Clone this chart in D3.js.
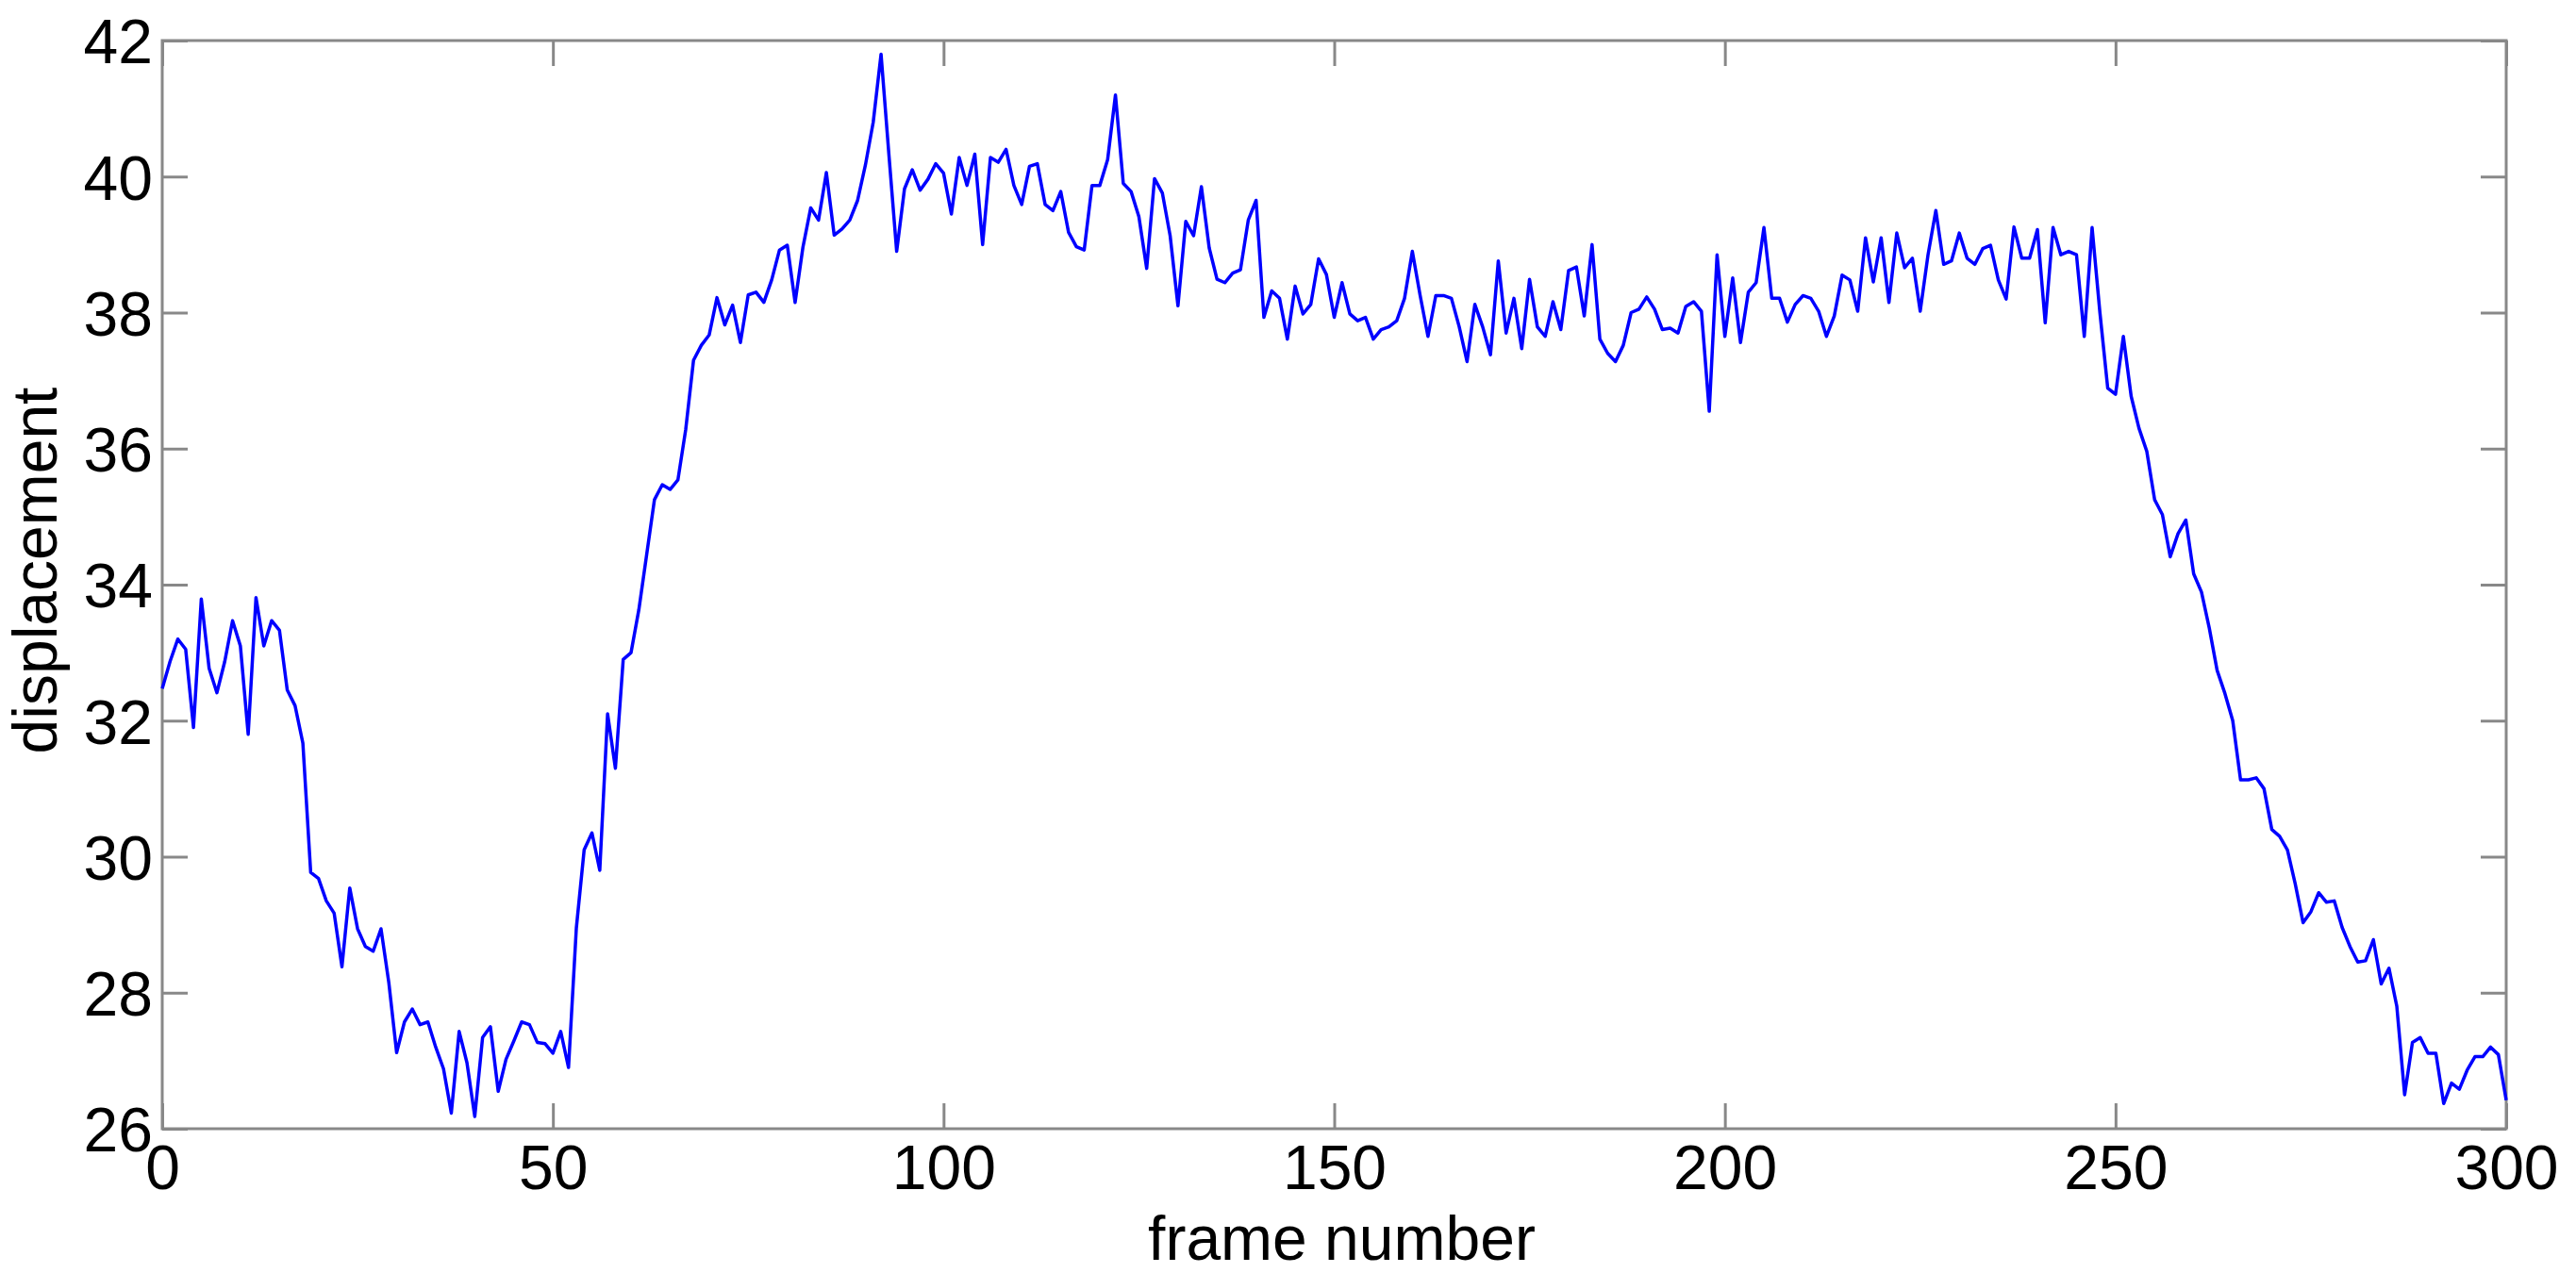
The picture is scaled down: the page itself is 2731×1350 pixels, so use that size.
<!DOCTYPE html>
<html>
<head>
<meta charset="utf-8">
<script src="https://cdn.jsdelivr.net/npm/d3@7"></script>
<style>
  html, body { margin: 0; padding: 0; background: #ffffff; }
  svg { display: block; }
  text { font-family: "Liberation Sans", Arial, Helvetica, sans-serif; fill: #000; }
</style>
</head>
<body>
<svg id="chart" width="2731" height="1350"></svg>
<script>
// ---- data ----
const xTicks = [0, 50, 100, 150, 200, 250, 300];
const yTicks = [26, 28, 30, 32, 34, 36, 38, 40, 42];
const xLabel = "frame number";
const yLabel = "displacement";

// displacement for frame 0 .. 300
const displacement = [
  32.47, 32.87, 33.20, 33.05, 31.90, 33.79, 32.77, 32.41, 32.87, 33.47,
  33.10, 31.80, 33.81, 33.10, 33.47, 33.33, 32.45, 32.22, 31.67, 29.77,
  29.68, 29.35, 29.17, 28.38, 29.54, 28.94, 28.68, 28.61, 28.94, 28.15,
  27.12, 27.57, 27.76, 27.53, 27.57, 27.20, 26.88, 26.23, 27.43, 26.97,
  26.18, 27.34, 27.50, 26.55, 27.02, 27.29, 27.57, 27.53, 27.27, 27.25,
  27.11, 27.43, 26.90, 28.95, 30.10, 30.35, 29.80, 32.10, 31.30, 32.90,
  33.00, 33.63, 34.44, 35.25, 35.47, 35.40, 35.54, 36.28, 37.30, 37.52,
  37.67, 38.22, 37.82, 38.11, 37.56, 38.26, 38.30, 38.15, 38.48, 38.92,
  38.99, 38.15, 38.96, 39.54, 39.36, 40.06, 39.14, 39.23, 39.36, 39.65,
  40.17, 40.80, 41.80, 40.33, 38.90, 39.82, 40.10, 39.80, 39.96, 40.19,
  40.05, 39.45, 40.28, 39.87, 40.33, 39.00, 40.28, 40.21, 40.40, 39.87,
  39.59, 40.15, 40.19, 39.59, 39.50, 39.78, 39.18, 38.97, 38.92, 39.87,
  39.87, 40.25, 41.20, 39.90, 39.78, 39.41, 38.65, 39.97, 39.76, 39.13,
  38.10, 39.34, 39.13, 39.85, 38.95, 38.49, 38.44, 38.58, 38.63, 39.36,
  39.65, 37.93, 38.32, 38.21, 37.61, 38.39, 37.98, 38.12, 38.79, 38.56,
  37.93, 38.44, 37.98, 37.88, 37.93, 37.61, 37.75, 37.79, 37.88, 38.21,
  38.90, 38.25, 37.65, 38.25, 38.25, 38.21, 37.79, 37.28, 38.12, 37.79,
  37.38, 38.76, 37.70, 38.21, 37.47, 38.49, 37.79, 37.65, 38.16, 37.75,
  38.62, 38.67, 37.95, 39.00, 37.61, 37.40, 37.28, 37.52, 38.00, 38.05,
  38.23, 38.05, 37.75, 37.77, 37.70, 38.09, 38.16, 38.02, 36.55, 38.85,
  37.65, 38.51, 37.56, 38.30, 38.44, 39.25, 38.21, 38.21, 37.86, 38.12,
  38.25, 38.21, 38.02, 37.65, 37.95, 38.55, 38.48, 38.02, 39.10, 38.45,
  39.10, 38.15, 39.17, 38.66, 38.80, 38.02, 38.85, 39.50, 38.71, 38.76,
  39.17, 38.80, 38.71, 38.94, 38.99, 38.48, 38.20, 39.26, 38.80, 38.80,
  39.22, 37.85, 39.25, 38.85, 38.90, 38.85, 37.65, 39.25, 38.00, 36.89,
  36.80, 37.65, 36.77, 36.30, 35.96, 35.25, 35.03, 34.41, 34.75, 34.95,
  34.16, 33.89, 33.36, 32.74, 32.40, 32.00, 31.13, 31.13, 31.16, 31.00,
  30.40, 30.30, 30.10, 29.60, 29.03, 29.19, 29.47, 29.33, 29.35, 28.96,
  28.68, 28.45, 28.47, 28.78, 28.13, 28.36, 27.80, 26.50, 27.27, 27.34,
  27.11, 27.11, 26.37, 26.67, 26.58, 26.86, 27.06, 27.06, 27.20, 27.09,
  26.42
];
const frames = d3.range(displacement.length);

// ---- layout ----
const plot = { left: 172, right: 2657, top: 43, bottom: 1197 };
const svg = d3.select("#chart");
svg.append("rect").attr("width", 2731).attr("height", 1350).attr("fill", "#fff");

const x = d3.scaleLinear().domain([0, 300]).range([plot.left, plot.right]);
const y = d3.scaleLinear().domain([26, 42]).range([plot.bottom, plot.top]);

const axisColor = "#888888";
const tickLen = 27;
const fontSize = 66;

function styleAxis(g) {
  g.select(".domain").remove();
  g.selectAll(".tick line").attr("stroke", axisColor).attr("stroke-width", 3);
  g.selectAll(".tick text")
    .style("font-size", fontSize + "px")
    .style("font-family", "'Liberation Sans', Arial, sans-serif")
    .attr("fill", "#000");
}

// bottom
const gB = svg.append("g").attr("transform", `translate(0,${plot.bottom})`)
  .call(d3.axisBottom(x).tickValues(xTicks).tickSize(-tickLen).tickPadding(17).tickFormat(d3.format("d")));
styleAxis(gB);
gB.selectAll(".tick text").attr("dy", "0.71em");

// left
const gL = svg.append("g").attr("transform", `translate(${plot.left},0)`)
  .call(d3.axisLeft(y).tickValues(yTicks).tickSize(-tickLen).tickPadding(10).tickFormat(d3.format("d")));
styleAxis(gL);
gL.selectAll(".tick text").attr("dy", "0.36em");

// top (ticks only)
const gT = svg.append("g").attr("transform", `translate(0,${plot.top})`)
  .call(d3.axisTop(x).tickValues(xTicks).tickSize(-tickLen).tickFormat(""));
styleAxis(gT);

// right (ticks only)
const gR = svg.append("g").attr("transform", `translate(${plot.right},0)`)
  .call(d3.axisRight(y).tickValues(yTicks).tickSize(-tickLen).tickFormat(""));
styleAxis(gR);

// frame box
svg.append("rect")
  .attr("x", plot.left).attr("y", plot.top)
  .attr("width", plot.right - plot.left).attr("height", plot.bottom - plot.top)
  .attr("fill", "none").attr("stroke", axisColor).attr("stroke-width", 3);

// line
const line = d3.line()
  .x((d, i) => x(frames[i]))
  .y(d => y(d));

svg.append("path")
  .datum(displacement)
  .attr("d", line)
  .attr("fill", "none")
  .attr("stroke", "#0000ff")
  .attr("stroke-width", 3.5)
  .attr("stroke-linejoin", "round");

// axis labels
svg.append("text")
  .attr("x", (plot.left + plot.right) / 2 + 8)
  .attr("y", 1336)
  .attr("text-anchor", "middle")
  .style("font-size", fontSize + "px")
  .text(xLabel);

svg.append("text")
  .attr("transform", `translate(60,605) rotate(-90)`)
  .attr("text-anchor", "middle")
  .style("font-size", fontSize + "px")
  .text(yLabel);
</script>
</body>
</html>
